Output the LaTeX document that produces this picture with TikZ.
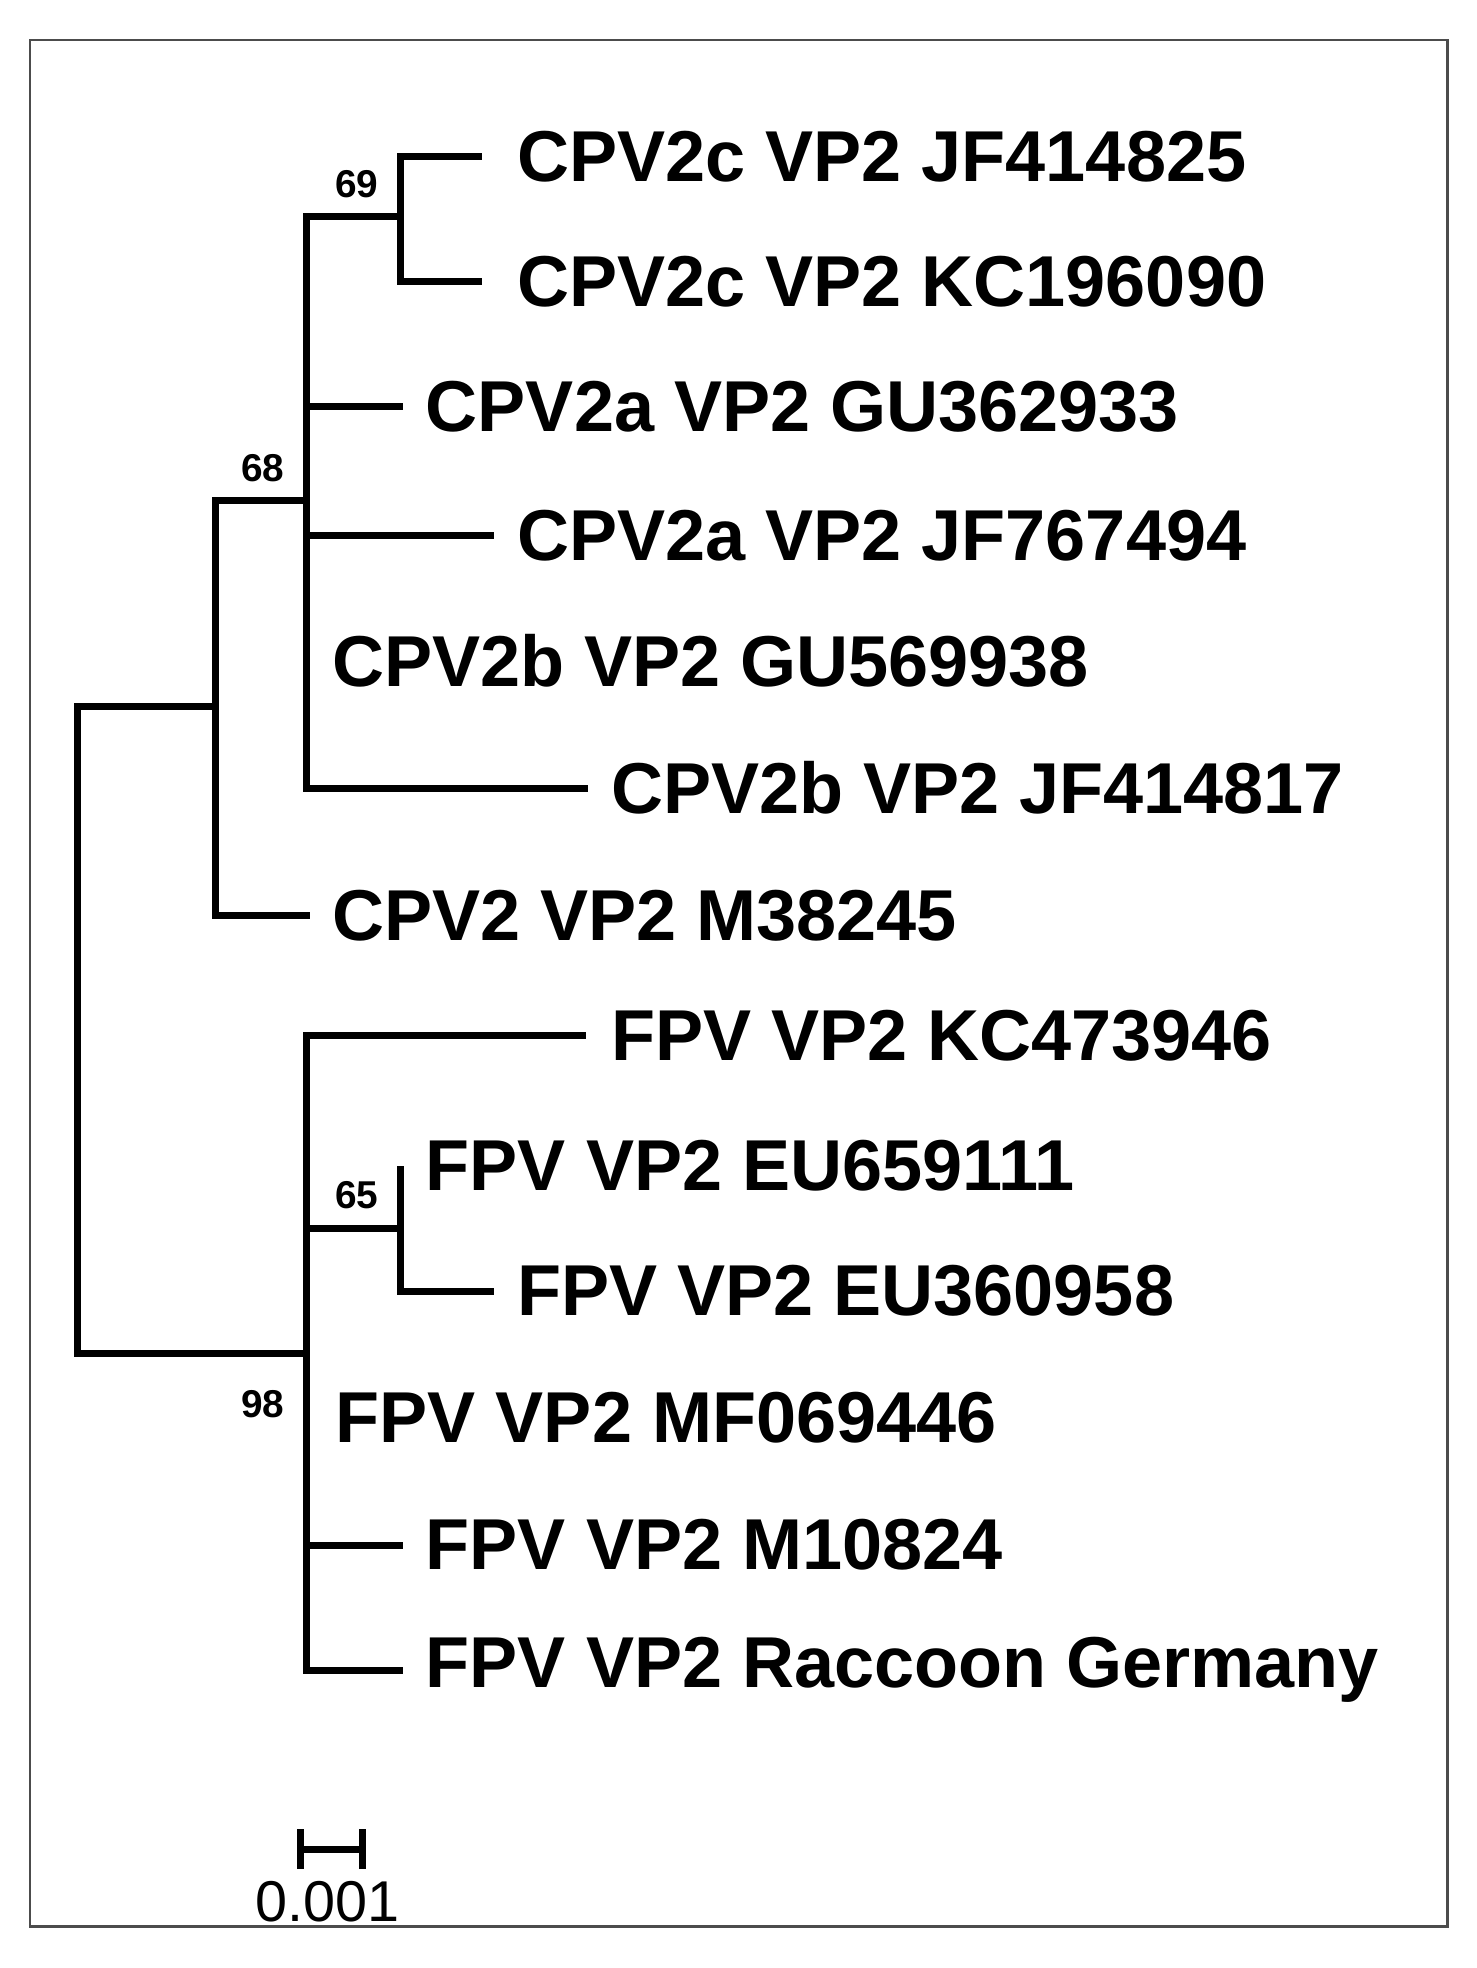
\documentclass[tikz,border=0pt]{standalone}
\usepackage{fontspec}
\setmainfont{Liberation Sans}
\begin{document}
\begin{tikzpicture}[x=0.5pt,y=-0.5pt,
  br/.style={line width=2.8pt},
  leaf/.style={anchor=west,inner sep=0pt,font=\fontsize{28.8}{28.8}\selectfont\bfseries},
  boot/.style={inner sep=0pt,font=\fontsize{15.5}{15.5}\selectfont\bfseries}]
\useasboundingbox (0,0) rectangle (1180,1573);
\draw[line width=1pt,black!70] (24,32) rectangle (1157,1540);
% leaves
\node[leaf] (l1) at (413,125) {CPV2c VP2 JF414825};
\node[leaf] (l2) at (413,225) {CPV2c VP2 KC196090};
\node[leaf] (l3) at (340,325) {CPV2a VP2 GU362933};
\node[leaf] (l4) at (413,428) {CPV2a VP2 JF767494};
\node[leaf] (l5) at (265,528) {CPV2b VP2 GU569938};
\node[leaf] (l6) at (488,630) {CPV2b VP2 JF414817};
\node[leaf] (l7) at (265,732) {CPV2 VP2 M38245};
\node[leaf] (l8) at (488,828) {FPV VP2 KC473946};
\node[leaf] (l9) at (340,932) {FPV VP2 EU659111};
\node[leaf] (l10) at (413,1032) {FPV VP2 EU360958};
\node[leaf] (l11) at (268,1133) {FPV VP2 MF069446};
\node[leaf] (l12) at (340,1235) {FPV VP2 M10824};
\node[leaf] (l13) at (340,1335) {FPV VP2 Raccoon Germany};
% branches
\draw[br] (172,565) -- (62,565) -- (62,1082) -- (245,1082);
\draw[br] (245,400) -- (172,400) -- (172,732) -- (248,732);
\draw[br] (320,173) -- (245,173) -- (245,630) -- (470,630);
\draw[br] (245,325) -- (322,325);
\draw[br] (245,428) -- (395,428);
\draw[br] (385,125) -- (320,125) -- (320,225) -- (385,225);
\draw[br] (468,828) -- (245,828) -- (245,1335) -- (322,1335);
\draw[br] (245,982) -- (320,982);
\draw[br] (320,932) -- (320,1032) -- (395,1032);
\draw[br] (245,1235) -- (322,1235);
% bootstrap
\node[boot] (s69) at (285,147) {69};
\node[boot] (s68) at (210,374) {68};
\node[boot] (s65) at (285,955) {65};
\node[boot] (s98) at (210,1122) {98};
% scale
\draw[line width=2.8pt] (240,1478) -- (290,1478);
\draw[line width=2.8pt] (240,1462) -- (240,1494) (290,1462) -- (290,1494);
\node[inner sep=0pt,font=\fontsize{23}{23}\selectfont] (sl) at (262,1520) {0.001};
\end{tikzpicture}
\end{document}
